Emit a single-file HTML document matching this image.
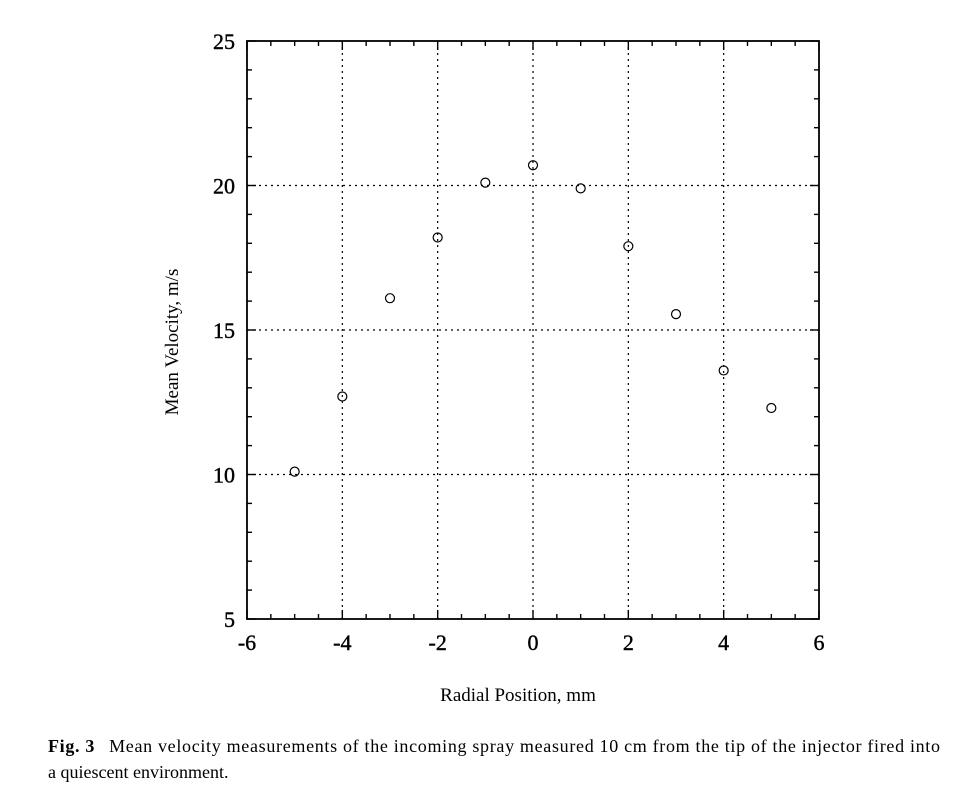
<!DOCTYPE html>
<html><head><meta charset="utf-8"><style>
html,body{margin:0;padding:0;background:#fff;}
svg{display:block;font-family:"Liberation Serif",serif;}
</style></head><body>
<svg width="963" height="811" viewBox="0 0 963 811">
<g id="plot"></g>
<text x="518" y="701" font-size="19" text-anchor="middle">Radial Position, mm</text>
<text transform="translate(178,342) rotate(-90)" font-size="19" text-anchor="middle">Mean Velocity, m/s</text>
<text x="48" y="752" font-size="18" textLength="892" lengthAdjust="spacing"><tspan font-weight="bold">Fig. 3</tspan><tspan dx="14">Mean velocity measurements of the incoming spray measured 10 cm from the tip of the injector fired into</tspan></text>
<text x="48" y="778" font-size="18">a quiescent environment.</text>
</svg>
<script>
const xTicks=[-6,-4,-2,0,2,4,6];
const yTicks=[5,10,15,20,25];
const xVals=[-5,-4,-3,-2,-1,0,1,2,3,4,5];
const yVals=[10.1,12.7,16.1,18.2,20.1,20.7,19.9,17.9,15.55,13.6,12.3];
const L=247,R=819,T=41,B=619;
const sx=v=>L+(v+6)/12*(R-L);
const sy=v=>B-(v-5)/20*(B-T);
const g=document.getElementById('plot');
const NS='http://www.w3.org/2000/svg';
function mk(tag,attrs){const e=document.createElementNS(NS,tag);for(const k in attrs)e.setAttribute(k,attrs[k]);g.appendChild(e);return e;}
xTicks.forEach(v=>{if(v>-6&&v<6){const e=mk('line',{x1:sx(v),x2:sx(v),y1:T,y2:B,stroke:'#000','stroke-width':1.2,'stroke-dasharray':'2,4'});

}});
yTicks.forEach(v=>{if(v>5&&v<25){const e=mk('line',{x1:L,x2:R,y1:sy(v),y2:sy(v),stroke:'#000','stroke-width':1.2,'stroke-dasharray':'2,4'});

}});
for(let v=-6;v<=6.001;v+=0.5){const maj=Math.abs(v%2)<1e-6;const len=maj?9:5;
mk('line',{x1:sx(v),x2:sx(v),y1:B,y2:B-len,stroke:'#000','stroke-width':1.4});
mk('line',{x1:sx(v),x2:sx(v),y1:T,y2:T+len,stroke:'#000','stroke-width':1.4});}
for(let v=5;v<=25;v+=1){const maj=v%5===0;const len=maj?9:5;
mk('line',{x1:L,x2:L+len,y1:sy(v),y2:sy(v),stroke:'#000','stroke-width':1.4});
mk('line',{x1:R,x2:R-len,y1:sy(v),y2:sy(v),stroke:'#000','stroke-width':1.4});}
const fr=mk('rect',{x:L,y:T,width:R-L,height:B-T,fill:'none',stroke:'#000','stroke-width':1.8});


xTicks.forEach(v=>{const t=mk('text',{x:sx(v),y:B+31,'font-size':22,'text-anchor':'middle','stroke':'#000','stroke-width':0.4});t.textContent=v;

});
yTicks.forEach(v=>{const t=mk('text',{x:L-12,y:sy(v)+8,'font-size':22,'text-anchor':'end','stroke':'#000','stroke-width':0.4});t.textContent=v;

});
xVals.forEach((x,i)=>{const c=mk('circle',{cx:sx(x),cy:sy(yVals[i]),r:4.5,fill:'none',stroke:'#000','stroke-width':1.2});

});
</script>
</body></html>
